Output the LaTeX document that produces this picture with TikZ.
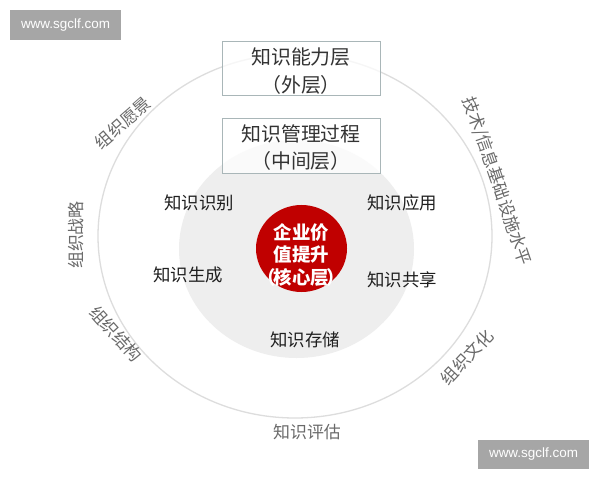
\documentclass[tikz,border=0pt]{standalone}
\usepackage{fontspec}
\setmainfont{Liberation Sans}
\newfontfamily\cjk{Noto Sans CJK SC}
\usetikzlibrary{shapes.geometric}
\definecolor{ringline}{HTML}{DDDDDD}
\definecolor{midfill}{HTML}{EEEEEE}
\definecolor{boxline}{HTML}{A9B6B8}
\definecolor{boxtext}{HTML}{333333}
\definecolor{corered}{HTML}{C00000}
\definecolor{outertext}{HTML}{6A6A6A}
\definecolor{markgray}{HTML}{A6A6A6}
\begin{document}
\begin{tikzpicture}[x=1bp,y=-1bp,
  every node/.style={inner sep=0pt, outer sep=0pt},
  layerbox/.style={draw=boxline, line width=0.8bp, fill=white, fill opacity=0.75, text opacity=1,
    minimum width=158bp, minimum height=54bp, align=center, text=boxtext},
  boxlabel/.style={align=center, text=boxtext, font=\cjk\fontsize{20}{28}\selectfont},
  innerlabel/.style={text=black!88, font=\cjk\fontsize{17.5}{20}\selectfont},
  outerlabel/.style={text=outertext, font=\cjk\fontsize{17}{20}\selectfont},
  corelabel/.style={align=center, text=white, font=\cjk\bfseries\fontsize{18.5}{22.5}\selectfont},
  watermark/.style={fill=markgray, minimum width=111bp, minimum height=30bp, text=white,
    font=\fontsize{13.5}{15}\selectfont}
]
\useasboundingbox (0,0) rectangle (600,480);
\fill[white] (0,0) rectangle (600,480);

% rings
\draw[ringline, line width=1.3bp] (295,236) ellipse [x radius=197bp, y radius=182bp];
\fill[midfill] (296.5,249) ellipse [x radius=117.5bp, y radius=109bp];

% layer boxes
\node[layerbox] (outerbox) at (301,68) {};
\node[boxlabel] (outerboxtext) at (301,71) {知识能力层\\（外层）};
\node[layerbox, minimum height=55bp] (midbox) at (301,145.5) {};
\node[boxlabel, font=\cjk\fontsize{20}{26.5}\selectfont] (midboxtext) at (301,147.5) {知识管理过程\\（中间层）};

% core
\node[ellipse, fill=corered, minimum width=91bp, minimum height=87bp] (core) at (301.5,248.5) {};
\node[corelabel] (coretext) at (301.5,255) {企业价\\值提升\\（\kern-0.12em 核心层\kern-0.12em ）};

% process labels
\node[innerlabel] (identify) at (199,203) {知识识别};
\node[innerlabel] (apply) at (402,203) {知识应用};
\node[innerlabel] (generate) at (188,275) {知识生成};
\node[innerlabel] (share) at (402,280) {知识共享};
\node[innerlabel] (store) at (305,340) {知识存储};

% outer ring labels
\node[outerlabel] (evaluate) at (307,432) {知识评估};
\node[outerlabel, rotate=41] (vision) at (123,123) {组织愿景};
\node[outerlabel, rotate=90] (strategy) at (76,235) {组织战略};
\node[outerlabel, rotate=-48] (structure) at (116,334) {组织结构};
\node[outerlabel, rotate=47] (culture) at (467,357) {组织文化};
\node[outerlabel, rotate=-71] (tech) at (497,181) {技术/信息基础设施水平};

% watermarks
\node[watermark] (wm1) at (65.5,25) {www.sgclf.com};
\node[watermark, minimum height=29bp] (wm2) at (533.5,454.5) {www.sgclf.com};
\end{tikzpicture}
\end{document}
